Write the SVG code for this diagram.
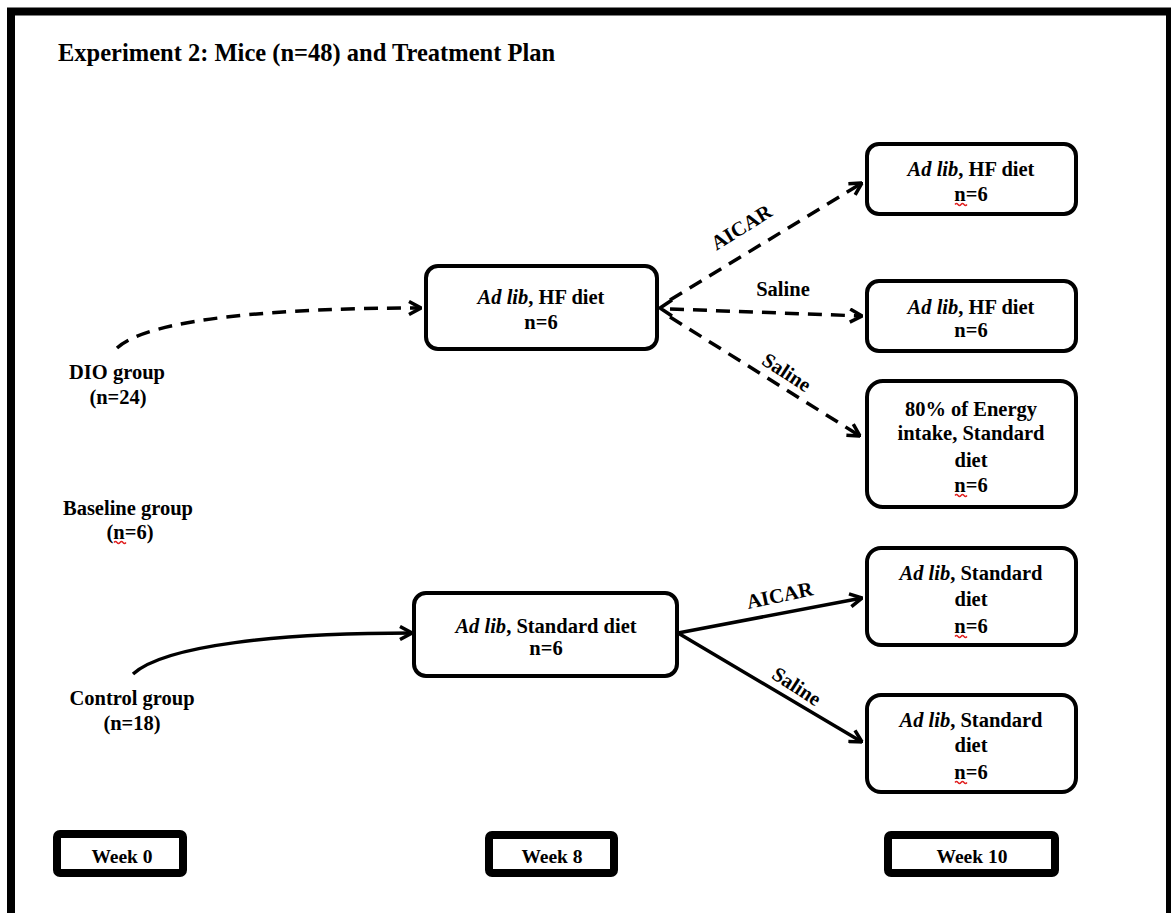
<svg xmlns="http://www.w3.org/2000/svg" width="1171" height="913" viewBox="0 0 1171 913">
<style>
  text { font-family: "Liberation Serif", "Times New Roman", serif; font-weight: bold; fill: #000; }
  .t { font-size: 20.5px; text-anchor: middle; }
  .title { font-size: 24.5px; }
  .wk { font-size: 19.5px; text-anchor: middle; }
  .box { fill: #fff; stroke: #000; stroke-width: 4; }
  .wbox { fill: #fff; stroke: #000; stroke-width: 8; }
  .dash { fill: none; stroke: #000; stroke-width: 3.5; stroke-dasharray: 14 9; }
  .solid { fill: none; stroke: #000; stroke-width: 3.5; }
  .sq { fill: none; stroke: #e02020; stroke-width: 1.3; }
  .it { font-style: italic; }
</style>
<defs>
  <marker id="arr" viewBox="0 0 14 16" markerWidth="14" markerHeight="16" refX="13" refY="8" orient="auto" markerUnits="userSpaceOnUse">
    <path d="M1,1.5 L13,8 L1,14.5" fill="none" stroke="#000" stroke-width="3.5" stroke-dasharray="none" stroke-linejoin="miter"/>
  </marker>
</defs>
<rect width="1171" height="913" fill="#fff"/>
<path d="M11,913 V11.5 H1170 V913" fill="none" stroke="#000" stroke-width="8"/>
<text class="title" x="58" y="61">Experiment 2: Mice (n=48) and Treatment Plan</text>

<g id="connectors">
  <path class="dash" d="M117,348 C150,318 280,308 421,308" marker-end="url(#arr)"/>
  <path d="M672,300 L660,308 L672,316" fill="none" stroke="#000" stroke-width="3.5"/>
  <path class="dash" d="M670,300 L862,183" marker-end="url(#arr)"/>
  <path class="dash" d="M670,309 L862,316" marker-end="url(#arr)"/>
  <path class="dash" d="M670,317 L860,436" marker-end="url(#arr)"/>
  <path class="solid" d="M133,674 C165,645 280,633 412,633" marker-end="url(#arr)"/>
  <path class="solid" d="M678,633 L862,598" marker-end="url(#arr)"/>
  <path class="solid" d="M678,633 L862,742" marker-end="url(#arr)"/>
  <text class="t" transform="translate(745,233) rotate(-32)">AICAR</text>
  <text class="t" x="783" y="296">Saline</text>
  <text class="t" transform="translate(783,378) rotate(33)">Saline</text>
  <text class="t" transform="translate(781,602) rotate(-12)">AICAR</text>
  <text class="t" transform="translate(793,692) rotate(33)">Saline</text>
</g>

<g id="dio-group">
  <text class="t" x="117" y="379">DIO group</text>
  <text class="t" x="118" y="404">(n=24)</text>
</g>
<g id="baseline-group">
  <text class="t" x="128" y="515">Baseline group</text>
  <text class="t" x="130" y="539">(n=6)</text>
  <path class="sq" d="M114,542.5 q1.5,-2 3,0 t3,0 t3,0 t3,0"/>
</g>
<g id="control-group">
  <text class="t" x="132" y="705">Control group</text>
  <text class="t" x="132" y="730">(n=18)</text>
</g>

<g id="hf-week8">
  <rect class="box" x="426" y="266" width="231" height="83" rx="12"/>
  <text class="t" x="541" y="304"><tspan class="it">Ad lib</tspan>, HF diet</text>
  <text class="t" x="541" y="329">n=6</text>
</g>
<g id="std-week8">
  <rect class="box" x="414" y="593" width="263" height="83" rx="12"/>
  <text class="t" x="546" y="633"><tspan class="it">Ad lib</tspan>, Standard diet</text>
  <text class="t" x="546" y="655">n=6</text>
</g>

<g id="hf-aicar">
  <rect class="box" x="867" y="144" width="209" height="70" rx="12"/>
  <text class="t" x="971" y="176"><tspan class="it">Ad lib</tspan>, HF diet</text>
  <text class="t" x="971" y="201">n=6</text>
  <path class="sq" d="M955,204.5 q1.5,-2 3,0 t3,0 t3,0 t3,0"/>
</g>
<g id="hf-saline">
  <rect class="box" x="867" y="281" width="209" height="70" rx="12"/>
  <text class="t" x="971" y="314"><tspan class="it">Ad lib</tspan>, HF diet</text>
  <text class="t" x="971" y="337">n=6</text>
</g>
<g id="hf-restricted">
  <rect class="box" x="867" y="381" width="209" height="126" rx="16"/>
  <text class="t" x="971" y="416">80% of Energy</text>
  <text class="t" x="971" y="440">intake, Standard</text>
  <text class="t" x="971" y="467">diet</text>
  <text class="t" x="971" y="492">n=6</text>
  <path class="sq" d="M955,495.5 q1.5,-2 3,0 t3,0 t3,0 t3,0"/>
</g>
<g id="std-aicar">
  <rect class="box" x="867" y="548" width="209" height="97" rx="14"/>
  <text class="t" x="971" y="580"><tspan class="it">Ad lib</tspan>, Standard</text>
  <text class="t" x="971" y="606">diet</text>
  <text class="t" x="971" y="633">n=6</text>
  <path class="sq" d="M955,636.5 q1.5,-2 3,0 t3,0 t3,0 t3,0"/>
</g>
<g id="std-saline">
  <rect class="box" x="867" y="695" width="209" height="97" rx="14"/>
  <text class="t" x="971" y="727"><tspan class="it">Ad lib</tspan>, Standard</text>
  <text class="t" x="971" y="752">diet</text>
  <text class="t" x="971" y="779">n=6</text>
  <path class="sq" d="M955,782.5 q1.5,-2 3,0 t3,0 t3,0 t3,0"/>
</g>

<g id="week0">
  <rect class="wbox" x="57" y="834" width="126" height="39" rx="3"/>
  <text class="wk" x="122" y="863">Week 0</text>
</g>
<g id="week8">
  <rect class="wbox" x="489" y="835" width="125" height="38" rx="3"/>
  <text class="wk" x="552" y="863">Week 8</text>
</g>
<g id="week10">
  <rect class="wbox" x="888" y="835" width="167" height="38" rx="3"/>
  <text class="wk" x="972" y="863">Week 10</text>
</g>
</svg>
